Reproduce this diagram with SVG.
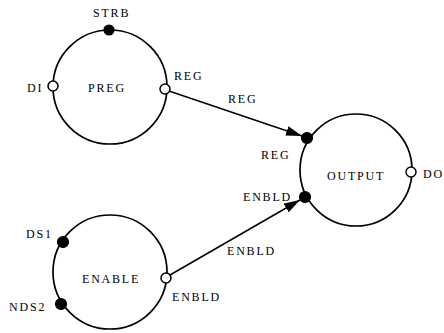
<svg xmlns="http://www.w3.org/2000/svg" width="444" height="333" viewBox="0 0 444 333">
  <defs>
    <style>
      .node { fill: none; stroke: #000; stroke-width: 1.7; }
      .port-in { fill: #000; stroke: #000; stroke-width: 1.2; }
      .port-out { fill: #fff; stroke: #000; stroke-width: 1.5; }
      .wire { fill: none; stroke: #000; stroke-width: 1.5; }
      text { font-family: "Liberation Serif", "Times New Roman", serif; font-size: 12px; letter-spacing: 1.8px; fill: #000; }
    </style>
    <marker id="arrow" viewBox="0 0 16 10" refX="16" refY="5" markerWidth="16" markerHeight="10" markerUnits="userSpaceOnUse" orient="auto">
      <path d="M0,0 L16,5 L0,10 Z" fill="#000"/>
    </marker>
  </defs>

  <!-- connectors -->
  <g id="connectors">
    <line class="wire" x1="169" y1="91" x2="302" y2="136" marker-end="url(#arrow)"/>
    <text x="228" y="103">REG</text>
    <line class="wire" x1="170" y1="275" x2="300" y2="200" marker-end="url(#arrow)"/>
    <text x="227" y="255">ENBLD</text>
  </g>

  <!-- PREG node -->
  <g id="PREG">
    <circle class="node" cx="110" cy="87" r="57"/>
    <text x="88" y="92">PREG</text>
    <circle class="port-in" cx="109" cy="30" r="5"/>
    <text x="93" y="17">STRB</text>
    <circle class="port-out" cx="53" cy="86" r="5"/>
    <text x="27" y="92">DI</text>
    <circle class="port-out" cx="165" cy="89" r="5"/>
    <text x="174" y="80">REG</text>
  </g>

  <!-- OUTPUT node -->
  <g id="OUTPUT">
    <circle class="node" cx="356" cy="170" r="56"/>
    <text x="327" y="180">OUTPUT</text>
    <circle class="port-in" cx="307" cy="138" r="5.5"/>
    <text x="261" y="159">REG</text>
    <circle class="port-in" cx="305" cy="197" r="5.5"/>
    <text x="243" y="201">ENBLD</text>
    <circle class="port-out" cx="411" cy="172" r="5"/>
    <text x="423" y="178">DO</text>
  </g>

  <!-- ENABLE node -->
  <g id="ENABLE">
    <circle class="node" cx="110" cy="272" r="57"/>
    <text x="82" y="283">ENABLE</text>
    <circle class="port-in" cx="63" cy="242" r="5.5"/>
    <text x="26" y="238">DS1</text>
    <circle class="port-in" cx="61" cy="304" r="5.5"/>
    <text x="9" y="311">NDS2</text>
    <circle class="port-out" cx="166" cy="278" r="5"/>
    <text x="172" y="301">ENBLD</text>
  </g>
</svg>
